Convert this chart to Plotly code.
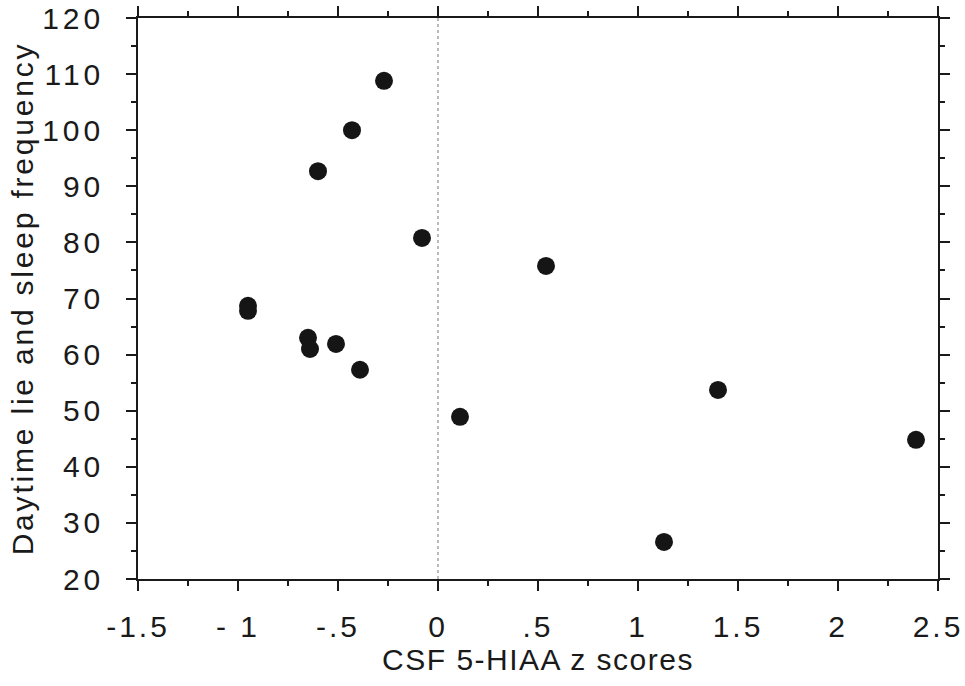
import plotly.graph_objects as go

z_scores = [-0.27, -0.43, -0.60, -0.08, 0.54, -0.95, -0.95, -0.65, -0.64, -0.51, -0.39, 0.11, 1.40, 2.39, 1.13]
frequency = [108.8, 100.0, 92.7, 80.8, 75.8, 68.7, 67.8, 63.0, 61.0, 61.9, 57.3, 48.9, 53.7, 44.8, 26.6]

x_tickvals = [-1.5, -1, -0.5, 0, 0.5, 1, 1.5, 2, 2.5]
x_ticklabels = ["-1.5", "- 1", "-.5", "0", ".5", "1", "1.5", "2", "2.5"]
y_tickvals = [20, 30, 40, 50, 60, 70, 80, 90, 100, 110, 120]
y_ticklabels = ["20", "30", "40", "50", "60", "70", "80", "90", "100", "110", "120"]

x_title = "CSF 5-HIAA z scores"
y_title = "Daytime lie and sleep frequency"


def spaced(s, px):
    return '<span style="letter-spacing:%spx">%s</span>' % (px, s)


fig = go.Figure()
fig.add_trace(go.Scatter(
    x=z_scores, y=frequency, mode="markers",
    marker=dict(size=18, color="#151515", line=dict(width=0)),
    showlegend=False,
))

fig.add_shape(type="line", xref="x", yref="y", x0=0, x1=0, y0=20, y1=120,
              line=dict(color="#777777", width=1, dash="dot"), layer="below")

font_family = "Liberation Sans, Arial, Helvetica, sans-serif"
ink = "#1a1a1a"

fig.update_layout(
    width=965, height=686,
    margin=dict(l=138, r=27, t=18, b=107),
    paper_bgcolor="white", plot_bgcolor="white",
    font=dict(family=font_family, color=ink),
    xaxis=dict(
        range=[-1.5, 2.5], tickvals=x_tickvals,
        ticktext=[spaced(t, 3) for t in x_ticklabels],
        automargin=False,
        showgrid=False, zeroline=False, showline=True, linecolor=ink, linewidth=1.5,
        mirror="ticks", ticks="outside", ticklen=10, tickwidth=1.5, tickcolor=ink,
        minor=dict(ticks="outside", dtick=0.25, tick0=0, ticklen=5, tickwidth=1.5, tickcolor=ink, showgrid=False),
        tickfont=dict(size=30), ticklabelstandoff=10,
        title=dict(text=spaced(x_title, 1.5), font=dict(size=30), standoff=0),
    ),
    yaxis=dict(
        range=[20, 120], tickvals=y_tickvals,
        ticktext=[spaced(t, 4) for t in y_ticklabels],
        automargin=False,
        showgrid=False, zeroline=False, showline=True, linecolor=ink, linewidth=1.5,
        mirror="ticks", ticks="outside", ticklen=10, tickwidth=1.5, tickcolor=ink,
        minor=dict(ticks="outside", dtick=5, tick0=0, ticklen=5, tickwidth=1.5, tickcolor=ink, showgrid=False),
        tickfont=dict(size=30), ticklabelstandoff=16,
        title=dict(text=spaced(y_title, 2.8), font=dict(size=30), standoff=0),
    ),
)

fig.write_html("out.html", config={"displayModeBar": False},
               post_script="document.body.style.margin='0';")
